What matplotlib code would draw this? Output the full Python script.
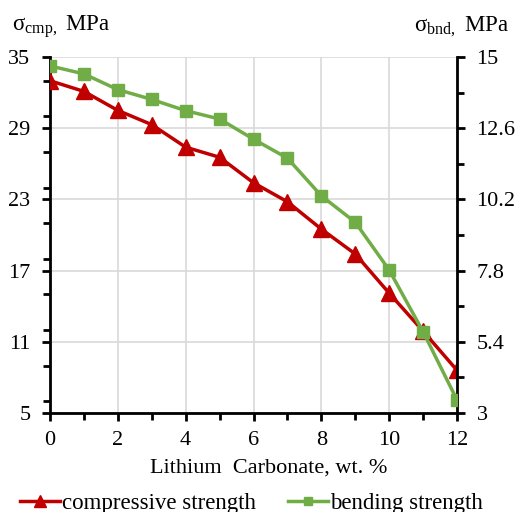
import matplotlib
matplotlib.use("Agg")
import matplotlib.pyplot as plt
from matplotlib.ticker import MultipleLocator, FixedLocator

plt.rcParams['font.family'] = ['Liberation Serif', 'DejaVu Serif']
plt.rcParams['mathtext.fontset'] = 'custom'
plt.rcParams['mathtext.rm'] = 'Liberation Serif'

li2co3 = [0, 1, 2, 3, 4, 5, 6, 7, 8, 9, 10, 11, 12]
compressive = [33.0, 32.1, 30.5, 29.3, 27.4, 26.55, 24.4, 22.8, 20.5, 18.4, 15.1, 11.9, 8.6]
bending = [14.7, 14.43, 13.9, 13.57, 13.19, 12.91, 12.23, 11.59, 10.32, 9.43, 7.82, 5.74, 3.44]
left_ticks = [5, 11, 17, 23, 29, 35]
right_ticks = [3, 5.4, 7.8, 10.2, 12.6, 15]
x_ticks = [0, 2, 4, 6, 8, 10, 12]

fig = plt.figure(figsize=(5.17, 5.12), dpi=100)
ax = fig.add_axes([50/517, 1-413/512, 407/517, 356/512])
ax2 = ax.twinx()

red = '#C00000'
green = '#70AD47'

l1, = ax.plot(li2co3, compressive, color=red, lw=2.5, marker='^', ms=11,
              label='compressive strength', zorder=3)
l2, = ax2.plot(li2co3, bending, color=green, lw=2.5, marker='s', ms=8.5,
               label='bending strength', zorder=3)

ax.set_xlim(0, 12)
ax.set_ylim(5, 35)
ax2.set_ylim(3, 15)
ax.xaxis.set_major_locator(FixedLocator(x_ticks))
ax.xaxis.set_minor_locator(MultipleLocator(1))
ax.yaxis.set_major_locator(FixedLocator(left_ticks))
ax.yaxis.set_minor_locator(MultipleLocator(3))
ax2.yaxis.set_major_locator(FixedLocator(right_ticks))
ax2.yaxis.set_minor_locator(FixedLocator([4.2, 6.6, 9.0, 11.4, 13.8]))
ax2.set_yticklabels(['3', '5.4', '7.8', '10.2', '12.6', '15'])

ax.grid(True, which='major', color='#D9D9D9', lw=1.2)
ax.set_axisbelow(True)

for a in (ax, ax2):
    for s in a.spines.values():
        s.set_visible(False)
ax.spines['left'].set_visible(True)
ax.spines['bottom'].set_visible(True)
ax2.spines['right'].set_visible(True)
for s in (ax.spines['left'], ax.spines['bottom'], ax2.spines['right']):
    s.set_linewidth(2)
    s.set_color('black')

ax.tick_params(axis='y', which='major', direction='out', length=6, width=2, labelsize=16, pad=8)
ax.tick_params(axis='x', which='major', direction='out', length=6, width=2, labelsize=16, pad=7)
ax.tick_params(axis='both', which='minor', direction='out', length=5, width=2)
ax2.tick_params(axis='y', which='major', direction='out', length=6, width=2, labelsize=16, pad=8)
ax2.tick_params(axis='y', which='minor', direction='out', length=5, width=2)

ax.set_xlabel('Lithium  Carbonate, wt. %', fontsize=16)
ax.xaxis.set_label_coords((269-50)/407, -(468-413)/356)
ax.xaxis.label.set_va('center')

fig.text(12/517, 1-31/512, r'σ$_{\mathregular{cmp},}$ MPa', fontsize=16.5, va='baseline', ha='left')
fig.text(509/517, 1-31/512, r'σ$_{\mathregular{bnd},}$ MPa', fontsize=16.5, va='baseline', ha='right')

fig.legend(handles=[l1, l2], loc='center left', bbox_to_anchor=(-1/517, 1-503/512),
           ncol=2, frameon=False, fontsize=16.5, handlelength=1.75, handletextpad=0.08,
           columnspacing=1.4, markerscale=0.75)

fig.savefig('out.png', dpi=100)
